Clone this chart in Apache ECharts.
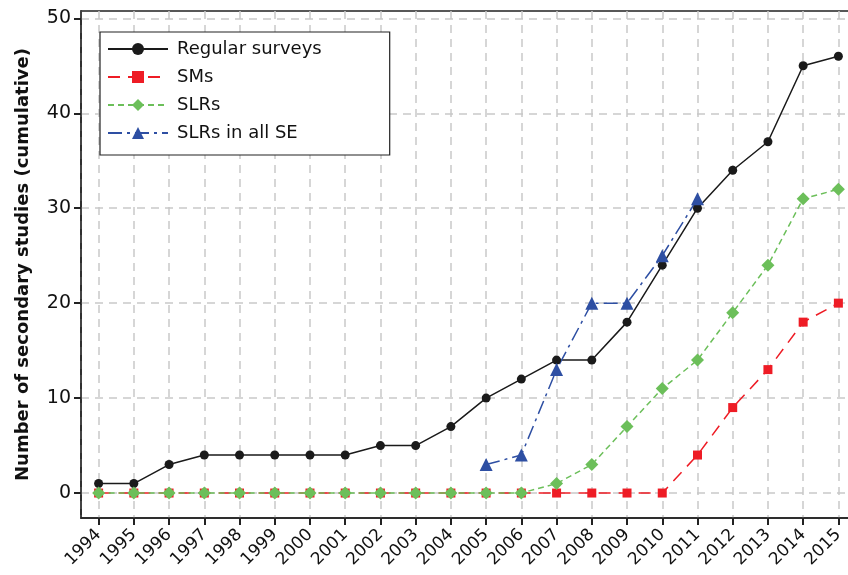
<!DOCTYPE html>
<html>
<head>
<meta charset="utf-8">
<script src="https://cdn.jsdelivr.net/npm/echarts@6.0.0/dist/echarts.min.js"></script>
<style>
  html, body { margin: 0; padding: 0; background: #fff; }
  #chart { width: 848px; height: 575px; }
</style>
</head>
<body>
<div id="chart"></div>
<script>
// cumulative number of secondary studies per year
const years = ['1994', '1995', '1996', '1997', '1998', '1999', '2000', '2001', '2002', '2003', '2004',
  '2005', '2006', '2007', '2008', '2009', '2010', '2011', '2012', '2013', '2014', '2015'];
const regularSurveys = [1, 1, 3, 4, 4, 4, 4, 4, 5, 5, 7, 10, 12, 14, 14, 18, 24, 30, 34, 37, 45, 46];
const sms = [0, 0, 0, 0, 0, 0, 0, 0, 0, 0, 0, 0, 0, 0, 0, 0, 0, 4, 9, 13, 18, 20];
const slrs = [0, 0, 0, 0, 0, 0, 0, 0, 0, 0, 0, 0, 0, 1, 3, 7, 11, 14, 19, 24, 31, 32];
const slrsAllSE = [null, null, null, null, null, null, null, null, null, null, null,
  3, 4, 13, 20, 20, 25, 31, null, null, null, null];
const yTicks = [0, 10, 20, 30, 40, 50];

const font = 'DejaVu Sans';
const gridLine = { show: true, lineStyle: { color: '#c9c9c9', width: 1.5, type: [8, 6] } };

let option = {
  animation: false,
  textStyle: { fontFamily: font },
  grid: {
    left: 81, top: 11, width: 775, bottom: 57,
    outerBoundsMode: 'none',
    show: true, borderColor: '#222', borderWidth: 1.5
  },
  legend: {
    orient: 'vertical',
    left: 100, top: 32,
    backgroundColor: '#fff',
    borderColor: '#222', borderWidth: 1.2,
    padding: [8, 68, 13, 7],
    itemWidth: 60, itemHeight: 15, itemGap: 10,
    textStyle: { fontSize: 18, color: '#111', fontFamily: font, lineHeight: 18, padding: [0, 0, 0, 4] },
    data: ['Regular surveys', 'SMs', 'SLRs', 'SLRs in all SE']
  },
  xAxis: [
    {
      type: 'category',
      data: years,
      boundaryGap: true,
      axisLine: { onZero: false, lineStyle: { color: '#222', width: 1.5 } },
      axisTick: { show: true, alignWithLabel: true, interval: 0, length: 7, lineStyle: { color: '#222', width: 2 } },
      axisLabel: { rotate: 45, fontSize: 17, color: '#111', margin: 14, interval: 0 },
      splitLine: { show: false }
    },
    {
      // hidden helper axis: vertical dashed lines at each year
      type: 'value',
      min: -0.5, max: 21.5,
      splitNumber: 22, minInterval: 1, maxInterval: 1,
      axisLine: { show: false, onZero: false }, axisTick: { show: false }, axisLabel: { show: false },
      splitLine: gridLine
    }
  ],
  yAxis: {
    type: 'value',
    min: -2.63, max: 50.77,
    name: 'Number of secondary studies (cumulative)',
    nameLocation: 'middle',
    nameGap: 49,
    nameTextStyle: { fontSize: 18, fontWeight: 'bold', color: '#111', fontFamily: font },
    axisLine: { show: true, onZero: false, lineStyle: { color: '#222', width: 1.5 } },
    axisTick: { show: true, length: 7, lineStyle: { color: '#222', width: 2 }, customValues: yTicks },
    axisLabel: { fontSize: 19, color: '#111', margin: 10, customValues: yTicks },
    splitLine: gridLine
  },
  series: [
    {
      name: 'Regular surveys', type: 'line', data: regularSurveys,
      symbol: 'circle', symbolSize: 9,
      itemStyle: { color: '#1a1a1a' },
      lineStyle: { color: '#1a1a1a', width: 1.5 }
    },
    {
      name: 'SMs', type: 'line', data: sms,
      symbol: 'rect', symbolSize: 9,
      itemStyle: { color: '#ee1c25' },
      lineStyle: { color: '#ee1c25', width: 1.5, type: [12, 8] }
    },
    {
      name: 'SLRs', type: 'line', data: slrs,
      symbol: 'diamond', symbolSize: 13,
      itemStyle: { color: '#6cbf5a' },
      lineStyle: { color: '#6cbf5a', width: 1.5, type: [6, 4] }
    },
    {
      name: 'SLRs in all SE', type: 'line', data: slrsAllSE,
      symbol: 'triangle', symbolSize: 13,
      itemStyle: { color: '#2e4fa3' },
      lineStyle: { color: '#2e4fa3', width: 1.5, type: [14, 5, 3, 5] }
    }
  ]
};

let myChart = echarts.init(document.getElementById('chart'));
myChart.setOption(option);
</script>
</body>
</html>
